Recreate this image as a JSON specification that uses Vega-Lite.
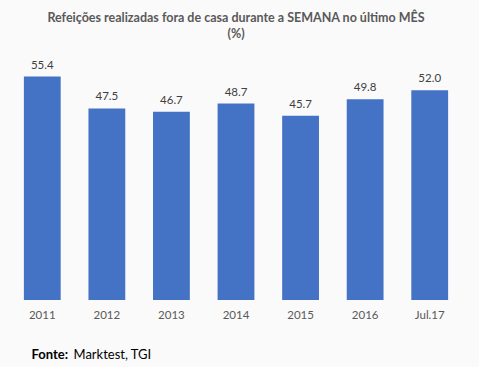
{
  "$schema": "https://vega.github.io/schema/vega-lite/v6.json",
  "width": 452,
  "height": 242,
  "autosize": {"type": "none"},
  "padding": {"left": 10, "top": 58, "right": 17, "bottom": 67},
  "background": "#fafafa",
  "config": {"view": {"stroke": null}, "font": "Lato"},
  "title": {
    "text": ["Refeições realizadas fora de casa durante a SEMANA no último MÊS", "(%)"],
    "fontSize": 12.5,
    "fontWeight": "bold",
    "color": "#595959",
    "anchor": "middle",
    "lineHeight": 16,
    "offset": 18,
    "font": "Lato"
  },
  "data": {
    "values": [
      {"ano": "2011", "valor": 55.4},
      {"ano": "2012", "valor": 47.5},
      {"ano": "2013", "valor": 46.7},
      {"ano": "2014", "valor": 48.7},
      {"ano": "2015", "valor": 45.7},
      {"ano": "2016", "valor": 49.8},
      {"ano": "Jul.17", "valor": 52.0}
    ]
  },
  "resolve": {"axis": {"x": "independent"}},
  "layer": [
    {
      "mark": {"type": "bar", "color": "#4472C4"},
      "encoding": {
        "x": {
          "field": "ano",
          "type": "nominal",
          "sort": null,
          "scale": {"paddingInner": 0.43, "paddingOuter": 0.215},
          "axis": {
            "orient": "bottom",
            "title": "Fonte:",
            "titleFontWeight": "bold",
            "titleFontSize": 13,
            "titleColor": "#000000",
            "titleAnchor": "start",
            "titleAlign": "left",
            "titleX": 21,
            "titleY": 58,
            "titleBaseline": "alphabetic",
            "labelAngle": 0,
            "labelFontSize": 11.5,
            "labelColor": "#595959",
            "labelPadding": 9,
            "ticks": false,
            "domain": false
          }
        },
        "y": {
          "field": "valor",
          "type": "quantitative",
          "scale": {"domain": [0, 60], "nice": false},
          "axis": null
        }
      }
    },
    {
      "mark": {"type": "text", "baseline": "bottom", "dy": -6, "fontSize": 11.5, "color": "#404040"},
      "encoding": {
        "x": {
          "field": "ano",
          "type": "nominal",
          "sort": null,
          "axis": {
            "orient": "bottom",
            "offset": 0,
            "title": "Marktest, TGI",
            "titleFontWeight": "normal",
            "titleFontSize": 13,
            "titleColor": "#000000",
            "titleAnchor": "start",
            "titleAlign": "left",
            "titleX": 63,
            "titleY": 58,
            "titleBaseline": "alphabetic",
            "labels": false,
            "ticks": false,
            "domain": false
          }
        },
        "y": {"field": "valor", "type": "quantitative"},
        "text": {"field": "valor", "type": "quantitative", "format": ".1f"}
      }
    }
  ]
}
